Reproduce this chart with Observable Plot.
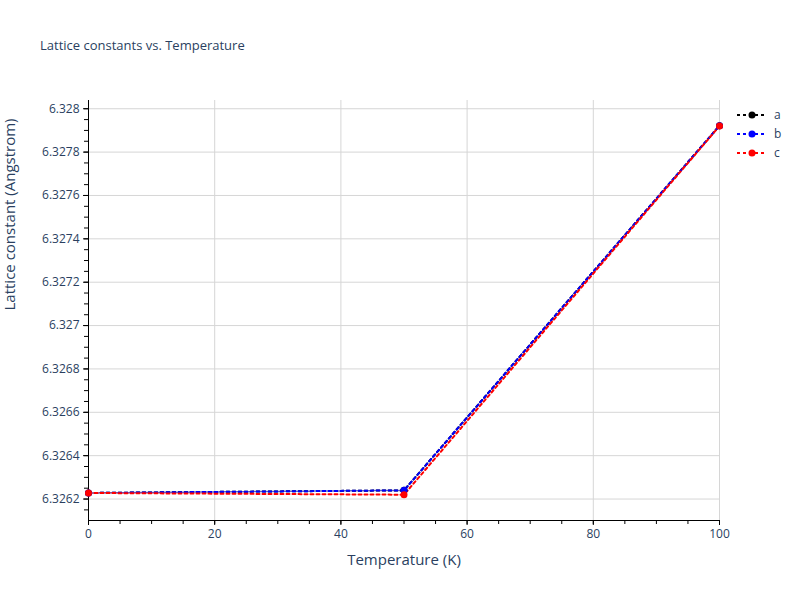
<!DOCTYPE html>
<html>
<head>
<meta charset="utf-8">
<script src="https://cdn.jsdelivr.net/npm/d3@7"></script>
<script src="https://cdn.jsdelivr.net/npm/@observablehq/plot@0.6"></script>
<style>
  body { margin: 0; background: #fff; }
  #wrap { position: relative; width: 800px; height: 600px; font-family: "Open Sans", sans-serif; }
  #title { position: absolute; left: 40px; top: 36px; font-size: 13px; color: #2a3f5f; }
  #legend { position: absolute; left: 736px; top: 105px; font-size: 12px; color: #2a3f5f; }
  .item { display: flex; align-items: center; height: 19px; }
  .item svg { margin-right: 6px; }
</style>
</head>
<body>
<div id="wrap">
  <div id="title">Lattice constants vs. Temperature</div>
  <div id="legend"></div>
</div>
<script>
const temperatures = [0, 50, 100];
const aValues = [6.326228, 6.32624, 6.327922];
const bValues = [6.326228, 6.32624, 6.327922];
const cValues = [6.326228, 6.32622, 6.32792];
const seriesNames = ["a", "b", "c"];
const seriesColors = ["#000000", "#0000ff", "#ff0000"];
const xTicks = [0, 20, 40, 60, 80, 100];
const yTicks = [6.3262, 6.3264, 6.3266, 6.3268, 6.327, 6.3272, 6.3274, 6.3276, 6.3278, 6.328];
const xTitle = "Temperature (K)";
const yTitle = "Lattice constant (Angstrom)";

const yMin = 6.326101, yMax = 6.328038;
const xMinor = d3.range(0, 101, 5);
const yMinor = d3.range(0, 40).map(i => +(6.32610 + i * 0.00005).toFixed(5)).filter(v => v >= yMin && v <= yMax);

const allValues = [aValues, bValues, cValues];
const data = [];
seriesNames.forEach((s, i) => temperatures.forEach((t, j) => data.push({series: s, T: t, v: allValues[i][j]})));

const textColor = "#2a3f5f";
const chart = Plot.plot({
  width: 800, height: 600,
  marginLeft: 88, marginRight: 81, marginTop: 100, marginBottom: 80,
  style: { fontFamily: "Open Sans, sans-serif", fontSize: "12px", color: textColor, background: "transparent" },
  x: { domain: [0, 100] },
  y: { domain: [yMin, yMax] },
  color: { domain: seriesNames, range: seriesColors },
  marks: [
    Plot.gridX(xTicks, { stroke: "#d6d6d6", strokeOpacity: 1 }),
    Plot.gridY(yTicks, { stroke: "#d6d6d6", strokeOpacity: 1 }),
    Plot.axisX(xMinor, { tickSize: 4, text: null, label: null, stroke: "#000" }),
    Plot.axisX(xTicks, { tickSize: 5, label: null, stroke: "#000", fill: textColor, fontSize: 12 }),
    Plot.axisY(yMinor, { tickSize: 4, text: null, label: null, stroke: "#000" }),
    Plot.axisY(yTicks, { tickSize: 5, label: null, stroke: "#000", fill: textColor, fontSize: 12, tickFormat: d => String(+d.toFixed(4)) }),
    Plot.ruleX([0], { stroke: "#000", strokeWidth: 1 }),
    Plot.ruleY([yMin], { stroke: "#000", strokeWidth: 1 }),
    Plot.line(data, { x: "T", y: "v", z: "series", stroke: "series", strokeWidth: 2, strokeDasharray: "3,3" }),
    Plot.dot(data, { x: "T", y: "v", fill: "series", r: 3.5 }),
    Plot.text([xTitle], { frameAnchor: "bottom", dy: 44, fontSize: 15, fill: textColor }),
    Plot.text([yTitle], { frameAnchor: "left", dx: -78, rotate: -90, fontSize: 15, fill: textColor })
  ]
});
chart.style.position = "absolute";
chart.style.left = "0";
chart.style.top = "0";
document.getElementById("wrap").prepend(chart);

const legend = document.getElementById("legend");
seriesNames.forEach((s, i) => {
  const div = document.createElement("div");
  div.className = "item";
  div.innerHTML = `<svg width="32" height="10"><line x1="1" y1="5" x2="31" y2="5" stroke="${seriesColors[i]}" stroke-width="2" stroke-dasharray="3,3"/><circle cx="16" cy="5" r="3.5" fill="${seriesColors[i]}"/></svg><span>${s}</span>`;
  legend.appendChild(div);
});
</script>
</body>
</html>
